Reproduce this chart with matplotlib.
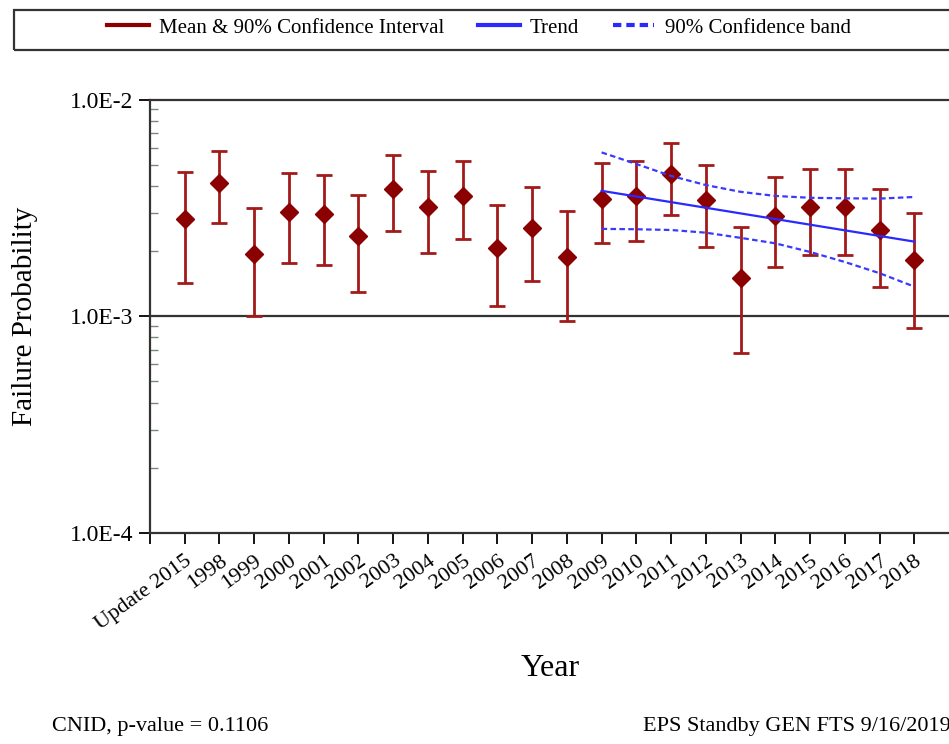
import numpy as np
import matplotlib
matplotlib.use("Agg")
import matplotlib.pyplot as plt
from matplotlib.lines import Line2D
from matplotlib.patches import Rectangle
from matplotlib.ticker import LogLocator, NullFormatter, FixedLocator

# Categories along the x axis
categories = ["Update 2015", "1998", "1999", "2000", "2001", "2002", "2003",
              "2004", "2005", "2006", "2007", "2008", "2009", "2010", "2011",
              "2012", "2013", "2014", "2015", "2016", "2017", "2018"]

# Mean failure probability and 90% interval bounds
means = [2.81e-3, 4.11e-3, 1.94e-3, 3.03e-3, 2.95e-3, 2.34e-3, 3.85e-3,
         3.19e-3, 3.59e-3, 2.07e-3, 2.55e-3, 1.87e-3, 3.48e-3, 3.59e-3,
         4.52e-3, 3.43e-3, 1.50e-3, 2.90e-3, 3.18e-3, 3.18e-3, 2.50e-3, 1.81e-3]
upper = [4.61e-3, 5.80e-3, 3.15e-3, 4.60e-3, 4.50e-3, 3.64e-3, 5.56e-3,
         4.69e-3, 5.22e-3, 3.27e-3, 3.96e-3, 3.06e-3, 5.11e-3, 5.20e-3,
         6.32e-3, 4.99e-3, 2.59e-3, 4.39e-3, 4.78e-3, 4.78e-3, 3.86e-3, 2.99e-3]
lower = [1.43e-3, 2.70e-3, 1.00e-3, 1.77e-3, 1.73e-3, 1.29e-3, 2.48e-3,
         1.96e-3, 2.28e-3, 1.11e-3, 1.46e-3, 9.5e-4, 2.18e-3, 2.23e-3,
         2.94e-3, 2.09e-3, 6.8e-4, 1.69e-3, 1.92e-3, 1.92e-3, 1.37e-3, 8.8e-4]

# Trend (2009-2018) and its 90% confidence band
trend_years = ["2009", "2018"]
trend_values = [3.79e-3, 2.21e-3]
band_years = ["2009", "2010", "2011", "2012", "2013", "2014", "2015",
              "2016", "2017", "2018"]
band_upper = [5.70e-3, 5.04e-3, 4.44e-3, 4.03e-3, 3.75e-3, 3.59e-3,
              3.52e-3, 3.50e-3, 3.49e-3, 3.55e-3]
band_lower = [2.53e-3, 2.52e-3, 2.50e-3, 2.43e-3, 2.30e-3, 2.17e-3,
              1.98e-3, 1.78e-3, 1.58e-3, 1.37e-3]

plt.rcParams["font.family"] = ["Liberation Serif", "DejaVu Serif"]

DARK_RED = "#8b0000"
BAR_RED = "#a31a1a"
BLUE = "#2a2aff"
BAND_BLUE = "#3a3aff"

fig = plt.figure(figsize=(9.49, 7.44), dpi=100)
ax = fig.add_axes([150 / 949, 1 - 533 / 744, 799 / 949, 433.5 / 744])

pos = {c: i + 1 for i, c in enumerate(categories)}
x = np.array([pos[c] for c in categories])
m = np.array(means)
yerr = np.vstack([m - np.array(lower), np.array(upper) - m])

ax.errorbar(x, m, yerr=yerr, fmt="none", ecolor=BAR_RED, elinewidth=2.0,
            capsize=6.0, capthick=2.0, zorder=3)
ax.plot(x, m, linestyle="none", marker="D", markersize=9.5,
        color=DARK_RED, zorder=4)

tx = [pos[c] for c in trend_years]
bx = [pos[c] for c in band_years]
ax.plot(tx, trend_values, color=BLUE, lw=1.6, zorder=5)
ax.plot(bx, band_upper, color=BAND_BLUE, lw=1.6, ls=(0, (2.5, 1.5)), zorder=5)
ax.plot(bx, band_lower, color=BAND_BLUE, lw=1.6, ls=(0, (2.5, 1.5)), zorder=5)

ax.set_yscale("log")
ax.set_ylim(1e-4, 1e-2)
ax.set_xlim(0, 23)

# Decade gridline
ax.axhline(1e-3, color="#333333", lw=1.6, zorder=1)

ax.yaxis.set_major_locator(FixedLocator([1e-4, 1e-3, 1e-2]))
ax.set_yticklabels(["1.0E-4", "1.0E-3", "1.0E-2"])
ax.yaxis.set_minor_locator(LogLocator(base=10, subs=np.arange(2, 10)))
ax.yaxis.set_minor_formatter(NullFormatter())
ax.tick_params(axis="y", which="major", direction="out", length=8, width=1.3,
               labelsize=17, pad=4)
ax.tick_params(axis="y", which="minor", direction="in", length=6, width=1.0,
               color="#7a8a7a")

ax.set_xticks(x)
ax.set_xticklabels(categories, rotation=36, ha="right",
                   rotation_mode="anchor", fontsize=16)
ax.tick_params(axis="x", which="major", direction="out", length=8, width=1.3,
               pad=5)
ax.xaxis.set_minor_locator(FixedLocator([0]))
ax.tick_params(axis="x", which="minor", direction="out", length=8, width=1.3)

for side in ("left", "bottom", "top"):
    ax.spines[side].set_linewidth(1.6)
    ax.spines[side].set_color("#333333")
ax.spines["right"].set_visible(False)

fig.text(25 / 949, 1 - 316 / 744, "Failure Probability", fontsize=21,
         rotation=90, ha="center", va="center")
fig.text(550 / 949, 1 - 669 / 744, "Year", fontsize=23, ha="center",
         va="center")

# Legend box across the top
fig.add_artist(Rectangle((14 / 949, 1 - 50 / 744), 1.0, 40 / 744,
                         transform=fig.transFigure, fill=False,
                         edgecolor="#333333", lw=1.6))
handles = [
    Line2D([], [], color=DARK_RED, lw=3),
    Line2D([], [], color=BLUE, lw=3),
    Line2D([], [], color=BLUE, lw=3, ls=(0, (2, 1.2))),
]
labels = ["Mean & 90% Confidence Interval", "Trend", "90% Confidence band"]
fig.legend(handles, labels, loc="center", bbox_to_anchor=(479 / 949, 1 - 28 / 744),
           ncol=3, frameon=False, fontsize=15, handlelength=2.0,
           handletextpad=0.5, columnspacing=1.6)

fig.text(52 / 949, 1 - 727 / 744, "CNID, p-value = 0.1106", fontsize=16,
         ha="left", va="center")
fig.text(643 / 949, 1 - 727 / 744, "EPS Standby GEN FTS 9/16/2019",
         fontsize=16, ha="left", va="center")

fig.savefig("out.png", dpi=100)
